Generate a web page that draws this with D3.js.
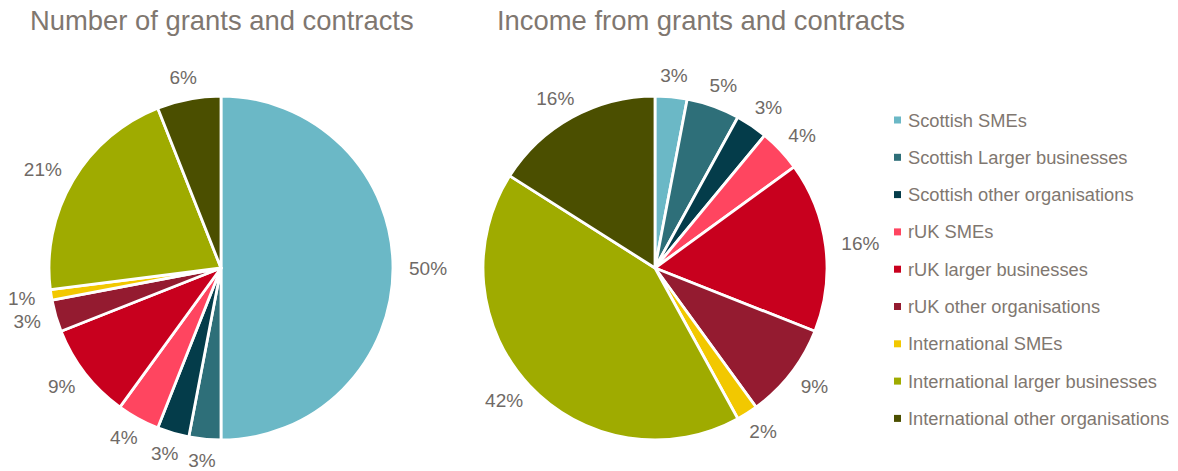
<!DOCTYPE html>
<html>
<head>
<meta charset="utf-8">
<script src="https://cdn.jsdelivr.net/npm/d3@7"></script>
<style>
  html, body { margin: 0; padding: 0; background: #fff; }
  svg { display: block; font-family: "Liberation Sans", Arial, sans-serif; }
</style>
</head>
<body>
<svg id="chart" width="1178" height="471"></svg>
<script>
// Organisation categories (legend order = slice order, clockwise from 12 o'clock)
const categories = [
  "Scottish SMEs",
  "Scottish Larger businesses",
  "Scottish other organisations",
  "rUK SMEs",
  "rUK larger businesses",
  "rUK other organisations",
  "International SMEs",
  "International larger businesses",
  "International other organisations"
];
const colors = [
  "#6bb8c6", "#2e6f79", "#043c4a",
  "#ff4560", "#c8001e", "#941b30",
  "#f2c800", "#9fab00", "#4b4f00"
];
// Share (%) of the number of grants and contracts
const countShare = [50, 3, 3, 4, 9, 3, 1, 21, 6];
// Share (%) of income from grants and contracts
const incomeShare = [3, 5, 3, 4, 16, 9, 2, 42, 16];
const titles = ["Number of grants and contracts", "Income from grants and contracts"];

const svg = d3.select("#chart");
const textColor = "#7f7770";
const labelColor = "#6f6a66";
const radius = 172;

const pie = d3.pie().sort(null).value(d => d.v);
const arc = d3.arc().innerRadius(0).outerRadius(radius);

function drawPie(values, cx, cy, title, titleX) {
  svg.append("text")
    .attr("x", titleX).attr("y", 30)
    .attr("font-size", 27.4)
    .attr("fill", textColor)
    .text(title);

  const g = svg.append("g").attr("transform", `translate(${cx},${cy})`);
  const data = pie(values.map((v, i) => ({ v, i })));

  g.selectAll("path.slice")
    .data(data)
    .join("path")
    .attr("class", "slice")
    .attr("d", arc)
    .attr("fill", d => colors[d.data.i])
    .attr("stroke", "#fff")
    .attr("stroke-width", 2.8)
    .attr("stroke-linejoin", "round");

  // Outside-end labels: offset so the text box sits just past the rim
  const fs = 19;
  const labels = g.selectAll("text.lbl")
    .data(data)
    .join("text")
    .attr("class", "lbl")
    .attr("font-size", fs)
    .attr("fill", labelColor)
    .attr("text-anchor", "middle")
    .attr("dominant-baseline", "central")
    .text(d => d.data.v + "%");

  labels.each(function (d) {
    const w = this.getComputedTextLength();
    const a = (d.startAngle + d.endAngle) / 2;
    const s = Math.sin(a), c = Math.cos(a);
    const rr = radius + 12;
    const x = rr * s + (w / 2 + 4) * s;
    const y = -rr * c - (fs * 0.5) * c;
    d3.select(this).attr("x", x).attr("y", y);
  });
}

drawPie(countShare, 221, 268, titles[0], 30);
drawPie(incomeShare, 655, 268, titles[1], 497);

// Legend
const legend = svg.append("g").attr("transform", "translate(894,120)");
const rowH = 37.3;
const items = legend.selectAll("g.item")
  .data(categories)
  .join("g")
  .attr("class", "item")
  .attr("transform", (d, i) => `translate(0,${i * rowH})`);
items.append("rect")
  .attr("x", 0).attr("y", -3.5)
  .attr("width", 7).attr("height", 7)
  .attr("fill", (d, i) => colors[i]);
items.append("text")
  .attr("x", 14).attr("y", 0)
  .attr("dominant-baseline", "central")
  .attr("font-size", 18.3)
  .attr("fill", textColor)
  .text(d => d);
</script>
</body>
</html>
